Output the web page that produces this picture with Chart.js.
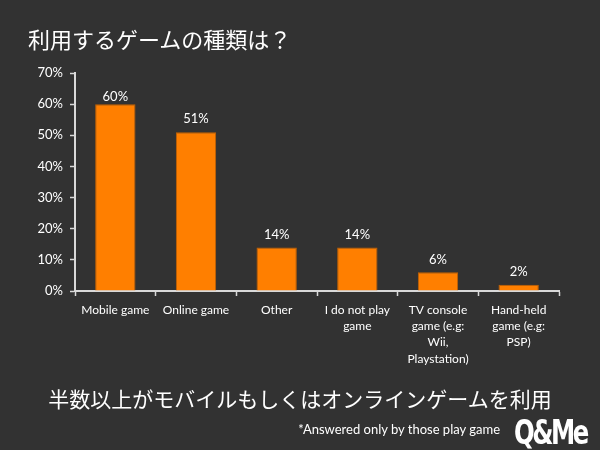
<!DOCTYPE html>
<html>
<head>
<meta charset="utf-8">
<script src="https://cdn.jsdelivr.net/npm/chart.js@4"></script>
<style>
  html, body { margin: 0; padding: 0; background: #323232; }
  #wrap { position: relative; width: 600px; height: 450px; background: #323232; overflow: hidden; }
  #c { position: absolute; left: 0; top: 0; }
  .txt { position: absolute; color: #ffffff; white-space: nowrap; line-height: 1; }
  #title { left: 28px; top: 22px; font: 22px "Noto Sans CJK JP", sans-serif; }
  #concl { left: 0; width: 600px; text-align: center; top: 383px; font: 21px "Noto Sans CJK JP", sans-serif; }
  #note { right: 100px; top: 421px; font: 13px Lato, "Open Sans", sans-serif; }
  #logo { left: 514px; top: 413px; font: bold 33px "Liberation Sans Narrow", "DejaVu Sans Condensed", sans-serif; letter-spacing: -3px; transform: scaleX(0.82); transform-origin: left top; }
</style>
</head>
<body>
<div id="wrap">
  <canvas id="c" width="600" height="450"></canvas>
  <div class="txt" id="title">利用するゲームの種類は？</div>
  <div class="txt" id="concl">半数以上がモバイルもしくはオンラインゲームを利用</div>
  <div class="txt" id="note">*Answered only by those play game</div>
  <div class="txt" id="logo">Q&amp;Me</div>
</div>
<script>
const categories = [
  ["Mobile game"],
  ["Online game"],
  ["Other"],
  ["I do not play", "game"],
  ["TV console", "game (e.g:", "Wii,", "Playstation)"],
  ["Hand-held", "game (e.g:", "PSP)"]
];
const values = [60, 51, 14, 14, 6, 2];
const yTicks = [0, 10, 20, 30, 40, 50, 60, 70];

const labelPlugin = {
  id: 'valueLabels',
  afterDatasetsDraw(chart) {
    const ctx = chart.ctx;
    const meta = chart.getDatasetMeta(0);
    ctx.save();
    ctx.fillStyle = '#ffffff';
    ctx.font = '13px Lato, "Open Sans", sans-serif';
    ctx.textAlign = 'center';
    ctx.textBaseline = 'middle';
    meta.data.forEach((bar, i) => {
      const y = Math.max(bar.y - 13, chart.chartArea.top + 24);
      ctx.fillText(values[i] + '%', bar.x, y);
    });
    ctx.restore();
  }
};

new Chart(document.getElementById('c'), {
  type: 'bar',
  data: {
    labels: categories,
    datasets: [{
      data: values,
      backgroundColor: '#ff7f00',
      borderColor: '#c46200',
      borderWidth: 1,
      barPercentage: 0.5,
      categoryPercentage: 1.0
    }]
  },
  options: {
    responsive: false,
    animation: false,
    devicePixelRatio: 1,
    layout: { padding: { left: 0, top: 73, right: 41, bottom: 0 } },
    plugins: { legend: { display: false }, title: { display: false }, tooltip: { enabled: false } },
    scales: {
      x: {
        afterFit(scale) { scale.height = 159; },
        grid: { drawOnChartArea: false, color: '#d9d9d9', tickLength: 5, tickWidth: 1.5 },
        border: { color: '#d9d9d9', width: 2 },
        ticks: {
          color: '#ffffff',
          font: { family: 'Lato, "Open Sans", sans-serif', size: 12, lineHeight: 1.35 },
          maxRotation: 0, autoSkip: false, padding: 6
        }
      },
      y: {
        min: 0, max: 70,
        afterFit(scale) { scale.width = 75; },
        afterBuildTicks(scale) { scale.ticks = yTicks.map(v => ({ value: v })); },
        grid: { drawOnChartArea: false, color: '#d9d9d9', tickLength: 5, tickWidth: 1.5 },
        border: { color: '#d9d9d9', width: 2 },
        ticks: {
          color: '#ffffff',
          font: { family: 'Lato, "Open Sans", sans-serif', size: 13 },
          padding: 7,
          callback: v => v + '%'
        }
      }
    }
  },
  plugins: [labelPlugin]
});
</script>
</body>
</html>
